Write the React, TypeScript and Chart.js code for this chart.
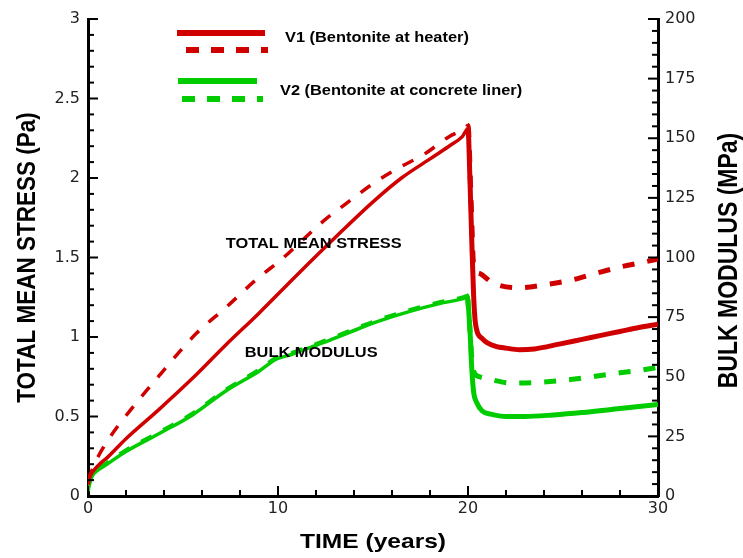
import React, { useEffect, useRef } from 'react';
import { Chart, registerables } from 'chart.js';

Chart.register(...registerables);

// ---- Data ----
const v1SolidTime = [0, 0.1, 0.3, 0.6, 1.0, 2.0, 3.7, 5.5, 7.25, 9.0, 11.0, 13.05, 15.0, 16.5, 18.0, 19.0, 19.7, 20.0, 20.1, 20.2, 20.3, 20.4, 20.75, 21.0, 21.5, 22.0, 22.7, 23.5, 24.8, 26.0, 27.0, 28.0, 29.0, 30.0];
const v1SolidValue = [0.07, 0.12, 0.16, 0.2, 0.24, 0.36, 0.54, 0.74, 0.95, 1.15, 1.39, 1.63, 1.85, 2.0, 2.12, 2.2, 2.26, 2.31, 2.0, 1.6, 1.25, 1.08, 0.99, 0.965, 0.94, 0.93, 0.92, 0.925, 0.955, 0.985, 1.01, 1.035, 1.06, 1.08];

const v1DashTime = [0, 0.2, 0.5, 1.1, 1.9, 3.84, 5.68, 7.3, 8.84, 10.2, 12.4, 13.6, 14.95, 16.3, 17.7, 19.0, 19.8, 20.0, 20.15, 20.3, 20.6, 21.3, 22.7, 24.1, 25.5, 26.7, 28.0, 29.4, 30.0];
const v1DashValue = [0.1, 0.16, 0.24, 0.36, 0.49, 0.77, 1.02, 1.19, 1.36, 1.49, 1.73, 1.84, 1.96, 2.06, 2.15, 2.26, 2.31, 2.33, 1.9, 1.45, 1.40, 1.34, 1.31, 1.33, 1.36, 1.40, 1.44, 1.475, 1.49];

const v2SolidTime = [0, 0.05, 0.2, 0.5, 1.0, 2.0, 3.7, 5.5, 7.25, 9.0, 9.9, 10.7, 12.5, 14.3, 15.3, 16.9, 18.5, 19.7, 19.95, 20.1, 20.2, 20.3, 20.45, 20.75, 21.2, 22.0, 23.0, 24.5, 26.0, 28.0, 30.0];
const v2SolidValue = [0.03, 0.06, 0.12, 0.16, 0.2, 0.28, 0.39, 0.51, 0.66, 0.785, 0.86, 0.89, 0.97, 1.055, 1.10, 1.16, 1.21, 1.24, 1.25, 1.05, 0.8, 0.65, 0.59, 0.535, 0.515, 0.50, 0.50, 0.51, 0.525, 0.55, 0.575];

const v2DashTime = [0, 0.05, 0.2, 0.5, 1.0, 2.0, 3.7, 5.5, 7.25, 9.0, 9.9, 10.7, 12.5, 14.3, 15.3, 16.9, 18.5, 19.7, 19.95, 20.1, 20.25, 20.6, 21.1, 22.3, 23.7, 25.2, 26.7, 28.0, 29.4, 30.0];
const v2DashValue = [0.04, 0.07, 0.13, 0.17, 0.21, 0.29, 0.40, 0.52, 0.67, 0.795, 0.87, 0.90, 0.98, 1.065, 1.11, 1.17, 1.22, 1.25, 1.26, 1.05, 0.8, 0.75, 0.735, 0.71, 0.715, 0.73, 0.753, 0.775, 0.797, 0.81];

const xTickValues = [0, 10, 20, 30];
const xTickLabels = ['0', '10', '20', '30'];
const yTickValues = [0, 0.5, 1, 1.5, 2, 2.5, 3];
const yTickLabels = ['0', '0.5', '1', '1.5', '2', '2.5', '3'];
const y2TickValues = [0, 25, 50, 75, 100, 125, 150, 175, 200];
const y2TickLabels = ['0', '25', '50', '75', '100', '125', '150', '175', '200'];

const legendLabels = ['V1 (Bentonite at heater)', 'V2 (Bentonite at concrete liner)'];
const curveLabelTexts = ['TOTAL MEAN STRESS', 'BULK MODULUS'];
const curveLabelTime = [7.25, 8.25];
const curveLabelValue = [1.56, 0.877];

const xTitle = 'TIME (years)';
const yTitle = 'TOTAL MEAN STRESS (Pa)';
const y2Title = 'BULK MODULUS (MPa)';

const RED = '#d00000';
const GREEN = '#00cc00';
const FONT = '"Liberation Sans", Arial, sans-serif';
const STRETCH = 1.17;

const toPoints = (t: number[], v: number[]) => t.map((x, i) => ({ x, y: v[i] }));

const widthFn = (ctx: any) => (ctx.p0.parsed.x >= 19.9 ? 5 : 3.5);

const inwardTicks = {
  id: 'inwardTicks',
  afterDraw(chart: any) {
    const { ctx, chartArea: a, scales } = chart;
    ctx.save();
    ctx.strokeStyle = '#000';
    ctx.lineWidth = 2;
    const run = (scale: any, minor: number, major: number, fn: (p: number, len: number) => void) => {
      const n = Math.round((scale.max - scale.min) / minor);
      for (let i = 0; i <= n; i++) {
        const v = scale.min + i * minor;
        const r = v / major;
        const isMajor = Math.abs(r - Math.round(r)) < 1e-6;
        fn(scale.getPixelForValue(v), isMajor ? 10 : 6);
      }
    };
    run(scales.x, 2, 10, (p, len) => {
      ctx.beginPath(); ctx.moveTo(p, a.bottom); ctx.lineTo(p, a.bottom - len); ctx.stroke();
    });
    run(scales.y, 0.1, 0.5, (p, len) => {
      ctx.beginPath(); ctx.moveTo(a.left, p); ctx.lineTo(a.left + len, p); ctx.stroke();
    });
    run(scales.y2, 5, 25, (p, len) => {
      ctx.beginPath(); ctx.moveTo(a.right, p); ctx.lineTo(a.right - len, p); ctx.stroke();
    });
    ctx.restore();
  },
};

const textLayer = {
  id: 'textLayer',
  afterDraw(chart: any) {
    const { ctx, chartArea: a, scales } = chart;
    const stretched = (text: string, x: number, y: number, size: number, align: CanvasTextAlign) => {
      ctx.save();
      ctx.translate(x, y);
      ctx.scale(STRETCH, 1);
      ctx.font = `bold ${size}px ${FONT}`;
      ctx.fillStyle = '#000';
      ctx.textAlign = align;
      ctx.textBaseline = 'alphabetic';
      ctx.fillText(text, 0, 0);
      ctx.restore();
    };
    const rotated = (text: string, x: number, y: number, size: number) => {
      ctx.save();
      ctx.translate(x, y);
      ctx.rotate(-Math.PI / 2);
      ctx.scale(1, STRETCH);
      ctx.font = `bold ${size}px ${FONT}`;
      ctx.fillStyle = '#000';
      ctx.textAlign = 'center';
      ctx.textBaseline = 'alphabetic';
      ctx.fillText(text, 0, 0);
      ctx.restore();
    };
    // axis titles
    stretched(xTitle, (a.left + a.right) / 2, 548, 21, 'center');
    rotated(yTitle, 35, (a.top + a.bottom) / 2, 22.5);
    rotated(y2Title, 737, (a.top + a.bottom) / 2 + 3, 23);

    // curve annotations (placed in data coordinates)
    curveLabelTexts.forEach((t, i) => {
      stretched(t, scales.x.getPixelForValue(curveLabelTime[i]), scales.y.getPixelForValue(curveLabelValue[i]), 14, 'left');
    });

    // legend
    const swatch = (x1: number, x2: number, y: number, color: string, dashed: boolean) => {
      ctx.save();
      ctx.strokeStyle = color;
      ctx.lineWidth = 6;
      ctx.setLineDash(dashed ? [13, 12] : []);
      ctx.beginPath(); ctx.moveTo(x1, y); ctx.lineTo(x2, y); ctx.stroke();
      ctx.restore();
    };
    swatch(177, 265, 33, RED, false);
    swatch(186, 268, 50, RED, true);
    swatch(178, 257, 81, GREEN, false);
    swatch(182, 263, 99, GREEN, true);
    stretched(legendLabels[0], 285, 42, 14, 'left');
    stretched(legendLabels[1], 280, 95, 14, 'left');
  },
};

export default function App() {
  const ref = useRef<HTMLCanvasElement | null>(null);

  useEffect(() => {
    if (!ref.current) return;
    const tickFont = { family: '"DejaVu Sans", sans-serif', size: 16 };
    const chart = new Chart(ref.current, {
      type: 'line',
      data: {
        datasets: [
          {
            label: 'V1 solid', data: toPoints(v1SolidTime, v1SolidValue), borderColor: RED,
            borderWidth: 3.5, pointRadius: 0, cubicInterpolationMode: 'monotone', yAxisID: 'y',
            segment: { borderWidth: widthFn },
          },
          {
            label: 'V1 dashed', data: toPoints(v1DashTime, v1DashValue), borderColor: RED,
            borderWidth: 3.5, borderDash: [12, 13], pointRadius: 0, cubicInterpolationMode: 'monotone', yAxisID: 'y',
            segment: { borderWidth: widthFn },
          },
          {
            label: 'V2 solid', data: toPoints(v2SolidTime, v2SolidValue), borderColor: GREEN,
            borderWidth: 3.5, pointRadius: 0, cubicInterpolationMode: 'monotone', yAxisID: 'y',
            segment: { borderWidth: widthFn },
          },
          {
            label: 'V2 dashed', data: toPoints(v2DashTime, v2DashValue), borderColor: GREEN,
            borderWidth: 3.5, borderDash: [12, 13], pointRadius: 0, cubicInterpolationMode: 'monotone', yAxisID: 'y',
            segment: { borderWidth: widthFn },
          },
        ],
      },
      options: {
        responsive: false,
        animation: false,
        devicePixelRatio: 1,
        layout: { padding: { top: 19, left: 0, right: 0, bottom: 0 } },
        plugins: { legend: { display: false }, tooltip: { enabled: false } },
        scales: {
          x: {
            type: 'linear', position: 'bottom', min: 0, max: 30,
            grid: { display: false, drawTicks: false },
            border: { display: true, color: '#000', width: 3 },
            afterBuildTicks: (s: any) => { s.ticks = xTickValues.map((value) => ({ value })); },
            afterFit: (s: any) => { s.height = 62; },
            ticks: {
              font: tickFont, color: '#222', padding: 3, maxRotation: 0, autoSkip: false,
              callback: (_v: any, i: number) => xTickLabels[i],
            },
          },
          y: {
            type: 'linear', position: 'left', min: 0, max: 3,
            grid: { display: false, drawTicks: false },
            border: { display: true, color: '#000', width: 3 },
            afterBuildTicks: (s: any) => { s.ticks = yTickValues.map((value) => ({ value })); },
            afterFit: (s: any) => { s.width = 88; },
            ticks: {
              font: tickFont, color: '#222', padding: 8, autoSkip: false,
              callback: (_v: any, i: number) => yTickLabels[i],
            },
          },
          y2: {
            type: 'linear', position: 'right', min: 0, max: 200,
            grid: { display: false, drawTicks: false },
            border: { display: true, color: '#000', width: 3 },
            afterBuildTicks: (s: any) => { s.ticks = y2TickValues.map((value) => ({ value })); },
            afterFit: (s: any) => { s.width = 85; },
            ticks: {
              font: tickFont, color: '#222', padding: 7, autoSkip: false,
              callback: (_v: any, i: number) => y2TickLabels[i],
            },
          },
        },
      },
      plugins: [inwardTicks, textLayer],
    } as any);
    return () => chart.destroy();
  }, []);

  return (
    <div style={{ position: 'fixed', left: 0, top: 0, width: 743, height: 558, background: '#fff' }}>
      <canvas ref={ref} width={743} height={558} style={{ display: 'block' }} />
    </div>
  );
}
